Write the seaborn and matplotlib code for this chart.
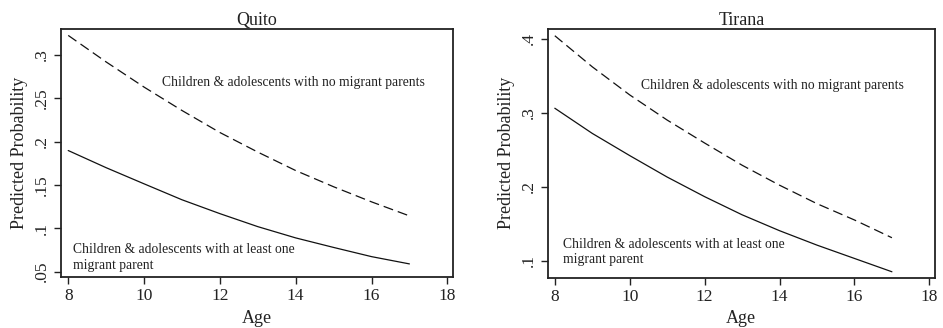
import numpy as np
import pandas as pd
import matplotlib
matplotlib.use("Agg")
import matplotlib.pyplot as plt
import seaborn as sns

ages = [8, 9, 10, 11, 12, 13, 14, 15, 16, 17]
quito_no_migrant = [0.3226, 0.292, 0.263, 0.236, 0.2106, 0.188, 0.1667, 0.148, 0.1306, 0.1144]
quito_migrant = [0.1898, 0.170, 0.1514, 0.133, 0.117, 0.102, 0.089, 0.078, 0.0674, 0.059]
tirana_no_migrant = [0.404, 0.362, 0.324, 0.290, 0.259, 0.229, 0.202, 0.177, 0.155, 0.131]
tirana_migrant = [0.306, 0.272, 0.242, 0.213, 0.1865, 0.162, 0.1405, 0.121, 0.103, 0.085]

titles = ["Quito", "Tirana"]
label_no = "Children & adolescents with no migrant parents"
label_mig = "Children & adolescents with at least one\nmigrant parent"
quito_yticks = [0.05, 0.1, 0.15, 0.2, 0.25, 0.3]
quito_yticklabels = [".05", ".1", ".15", ".2", ".25", ".3"]
tirana_yticks = [0.1, 0.2, 0.3, 0.4]
tirana_yticklabels = [".1", ".2", ".3", ".4"]
xticks = [8, 10, 12, 14, 16, 18]

sns.set_style("ticks")
plt.rcParams['font.family'] = ['Liberation Serif', 'DejaVu Serif']
plt.rcParams['text.color'] = '#222222'

fig = plt.figure(figsize=(9.43, 3.28), dpi=100)
ax1 = fig.add_axes([0.0647, 0.1555, 0.4157, 0.7561])
ax2 = fig.add_axes([0.5808, 0.1534, 0.4107, 0.7582])

def build(no, mig):
    return pd.DataFrame({
        "Age": ages * 2,
        "p": list(no) + list(mig),
        "group": ["no"] * len(ages) + ["mig"] * len(ages),
    })

panels = [
    (ax1, build(quito_no_migrant, quito_migrant), quito_yticks, quito_yticklabels, (0.0439, 0.330),
     (10.48, 0.2677), (8.13, 0.0665)),
    (ax2, build(tirana_no_migrant, tirana_migrant), tirana_yticks, tirana_yticklabels, (0.077, 0.4131),
     (10.31, 0.3374), (8.21, 0.112)),
]

for (ax, df, yt, ytl, ylim, pos_no, pos_mig), title in zip(panels, titles):
    sns.lineplot(data=df, x="Age", y="p", style="group",
                 dashes={"no": (8, 4), "mig": ""}, color="#111111",
                 linewidth=0.9, legend=False, ax=ax)
    ax.set_xlim(7.81, 18.15)
    ax.set_ylim(*ylim)
    ax.set_xticks(xticks)
    ax.set_xticklabels([str(x) for x in xticks], fontsize=12.5)
    ax.set_yticks(yt)
    ax.set_yticklabels(ytl, fontsize=12.5, rotation=90, va="center")
    ax.set_xlabel("Age", fontsize=13, color="#222222", labelpad=4)
    ax.set_ylabel("Predicted Probability", fontsize=13, color="#222222", labelpad=4)
    ax.set_title(title, fontsize=13, pad=3, color="#222222")
    ax.tick_params(direction="out", length=5, width=1, colors="#222222", pad=3)
    for s in ax.spines.values():
        s.set_linewidth(1.3)
        s.set_color("#222222")
        s.set_visible(True)
    ax.text(pos_no[0], pos_no[1], label_no, fontsize=9.8, va="center", ha="left")
    ax.text(pos_mig[0], pos_mig[1], label_mig, fontsize=9.8, va="center", ha="left",
            linespacing=1.25)

fig.savefig("out.png", dpi=100)
